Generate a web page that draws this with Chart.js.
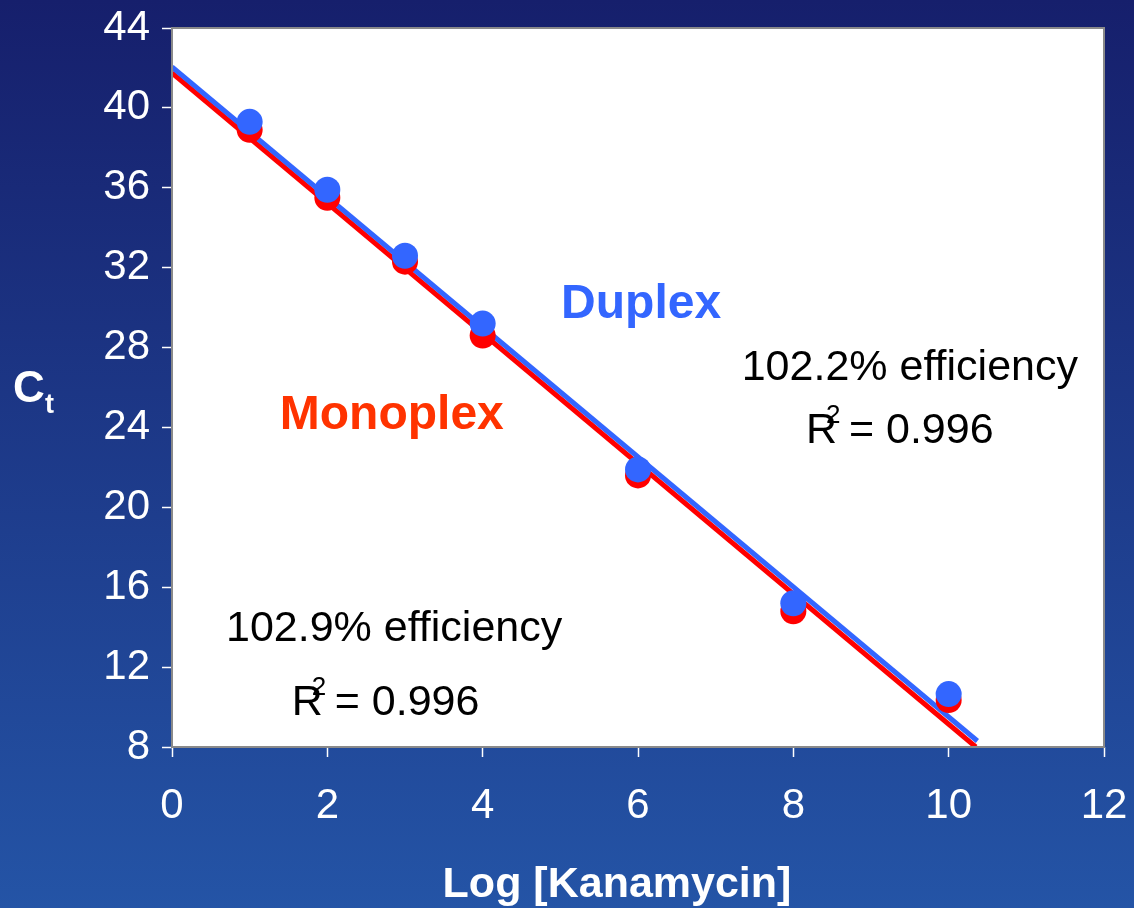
<!DOCTYPE html>
<html>
<head>
<meta charset="utf-8">
<script src="https://cdn.jsdelivr.net/npm/chart.js@4"></script>
<style>
  html, body { margin: 0; padding: 0; background: #1c3a8c; }
  #wrap { width: 1134px; height: 908px; position: relative; }
</style>
</head>
<body>
<div id="wrap"><canvas id="ct_chart" width="1134" height="908"></canvas></div>
<script>
var log_kan = [1, 2, 3, 4, 6, 8, 10];
var ct_monoplex = [38.9, 35.5, 32.3, 28.6, 21.6, 14.8, 10.35];
var ct_duplex = [39.3, 35.9, 32.6, 29.2, 21.9, 15.2, 10.65];

// fitted trend line ends [x, y]
var fit_monoplex = [[0, 41.75], [10.35, 8.0]];
var fit_duplex = [[0, 42.05], [10.37, 8.3]];

var x_ticks = [0, 2, 4, 6, 8, 10, 12];
var y_ticks = [8, 12, 16, 20, 24, 28, 32, 36, 40, 44];

const FONT = "'Liberation Sans', Arial, sans-serif";
const BLUE = '#3366ff', RED = '#ff0000';

function pts(xs, ys) {
  return xs.map((x, i) => ({x: x, y: ys[i]}));
}
function line_pts(pairs) {
  return pairs.map(p => ({x: p[0], y: p[1]}));
}

// background gradient + white plot area with grey frame
const backdrop = {
  id: 'backdrop',
  beforeDraw(chart) {
    const c = chart.ctx, a = chart.chartArea;
    const g = c.createLinearGradient(0, 0, 0, chart.height);
    g.addColorStop(0, '#161f6c');
    g.addColorStop(1, '#2454a6');
    c.save();
    c.fillStyle = g;
    c.fillRect(0, 0, chart.width, chart.height);
    c.fillStyle = '#ffffff';
    c.fillRect(a.left, a.top, a.right - a.left, a.bottom - a.top);
    c.restore();
  },
  afterDatasetsDraw(chart) {
    const c = chart.ctx, a = chart.chartArea;
    c.save();
    c.strokeStyle = '#8a8a8a';
    c.lineWidth = 2;
    c.strokeRect(a.left, a.top, a.right - a.left, a.bottom - a.top);
    c.restore();
  }
};

// text labels placed in data coordinates
const notes = {
  id: 'notes',
  afterDraw(chart) {
    const c = chart.ctx, xs = chart.scales.x, ys = chart.scales.y;
    const X = v => xs.getPixelForValue(v), Y = v => ys.getPixelForValue(v) + 3;
    c.save();
    c.textAlign = 'center';
    c.textBaseline = 'middle';

    c.font = 'bold 48px ' + FONT;
    c.fillStyle = BLUE;
    c.fillText('Duplex', X(6.04), Y(30.28));
    c.fillStyle = '#ff3300';
    c.fillText('Monoplex', X(2.83), Y(24.72));

    c.font = '43px ' + FONT;
    c.fillStyle = '#000000';
    c.fillText('102.2% efficiency', X(9.5), Y(27.12));
    c.fillText('102.9% efficiency', X(2.86), Y(14.06));
    r2(c, X(9.37), Y(23.97));
    r2(c, X(2.75), Y(10.35));

    // axis titles
    c.fillStyle = '#ffffff';
    c.font = 'bold 43px ' + FONT;
    c.fillText('Log [Kanamycin]', 617, 885);
    c.textAlign = 'left';
    c.font = 'bold 44px ' + FONT;
    c.fillText('C', 13, 390);
    c.font = 'bold 27px ' + FONT;
    c.fillText('t', 45, 406);
    c.restore();
  }
};

function r2(c, cx, cy) {
  c.save();
  c.font = '43px ' + FONT;
  const rest = ' = 0.996';
  const wR = c.measureText('R').width, wRest = c.measureText(rest).width;
  let x = cx - (wR + wRest) / 2;
  c.textAlign = 'left';
  c.fillText('R', x, cy);
  c.fillText(rest, x + wR, cy);
  c.font = '26px ' + FONT;
  c.fillText('2', x + wR - 11, cy - 15);
  c.restore();
}

new Chart(document.getElementById('ct_chart'), {
  type: 'scatter',
  data: {
    datasets: [{
      label: 'Monoplex',
      data: pts(log_kan, ct_monoplex),
      backgroundColor: RED,
      borderWidth: 0,
      pointRadius: 13,
      order: 2
    }, {
      label: 'Duplex',
      data: pts(log_kan, ct_duplex),
      backgroundColor: BLUE,
      borderWidth: 0,
      pointRadius: 13,
      order: 1
    }, {
      label: 'Monoplex fit',
      data: line_pts(fit_monoplex),
      showLine: true,
      borderColor: RED,
      borderWidth: 5,
      pointRadius: 0,
      order: 4
    }, {
      label: 'Duplex fit',
      data: line_pts(fit_duplex),
      showLine: true,
      borderColor: BLUE,
      borderWidth: 5,
      pointRadius: 0,
      order: 3
    }]
  },
  options: {
    responsive: false,
    animation: false,
    layout: { padding: { left: 0, right: 30, top: 28, bottom: 0 } },
    plugins: { legend: { display: false }, tooltip: { enabled: false } },
    scales: {
      x: {
        type: 'linear',
        min: 0, max: 12,
        afterBuildTicks: s => { s.ticks = x_ticks.map(v => ({value: v})); },
        afterFit: s => { s.height = 161; s.paddingLeft = 0; s.paddingRight = 0; },
        grid: { drawOnChartArea: false, color: '#ffffff', tickLength: 10, tickWidth: 1.5 },
        border: { display: false },
        ticks: { color: '#ffffff', font: { family: FONT, size: 42 }, padding: 24, maxRotation: 0 }
      },
      y: {
        type: 'linear',
        min: 8, max: 44,
        afterBuildTicks: s => { s.ticks = y_ticks.map(v => ({value: v})); },
        afterFit: s => { s.width = 172; s.paddingTop = 0; s.paddingBottom = 0; },
        grid: { drawOnChartArea: false, color: '#ffffff', tickLength: 10, tickWidth: 1.5 },
        border: { display: false },
        ticks: { color: '#ffffff', font: { family: FONT, size: 42 }, padding: 12 }
      }
    }
  },
  plugins: [backdrop, notes]
});
</script>
</body>
</html>
